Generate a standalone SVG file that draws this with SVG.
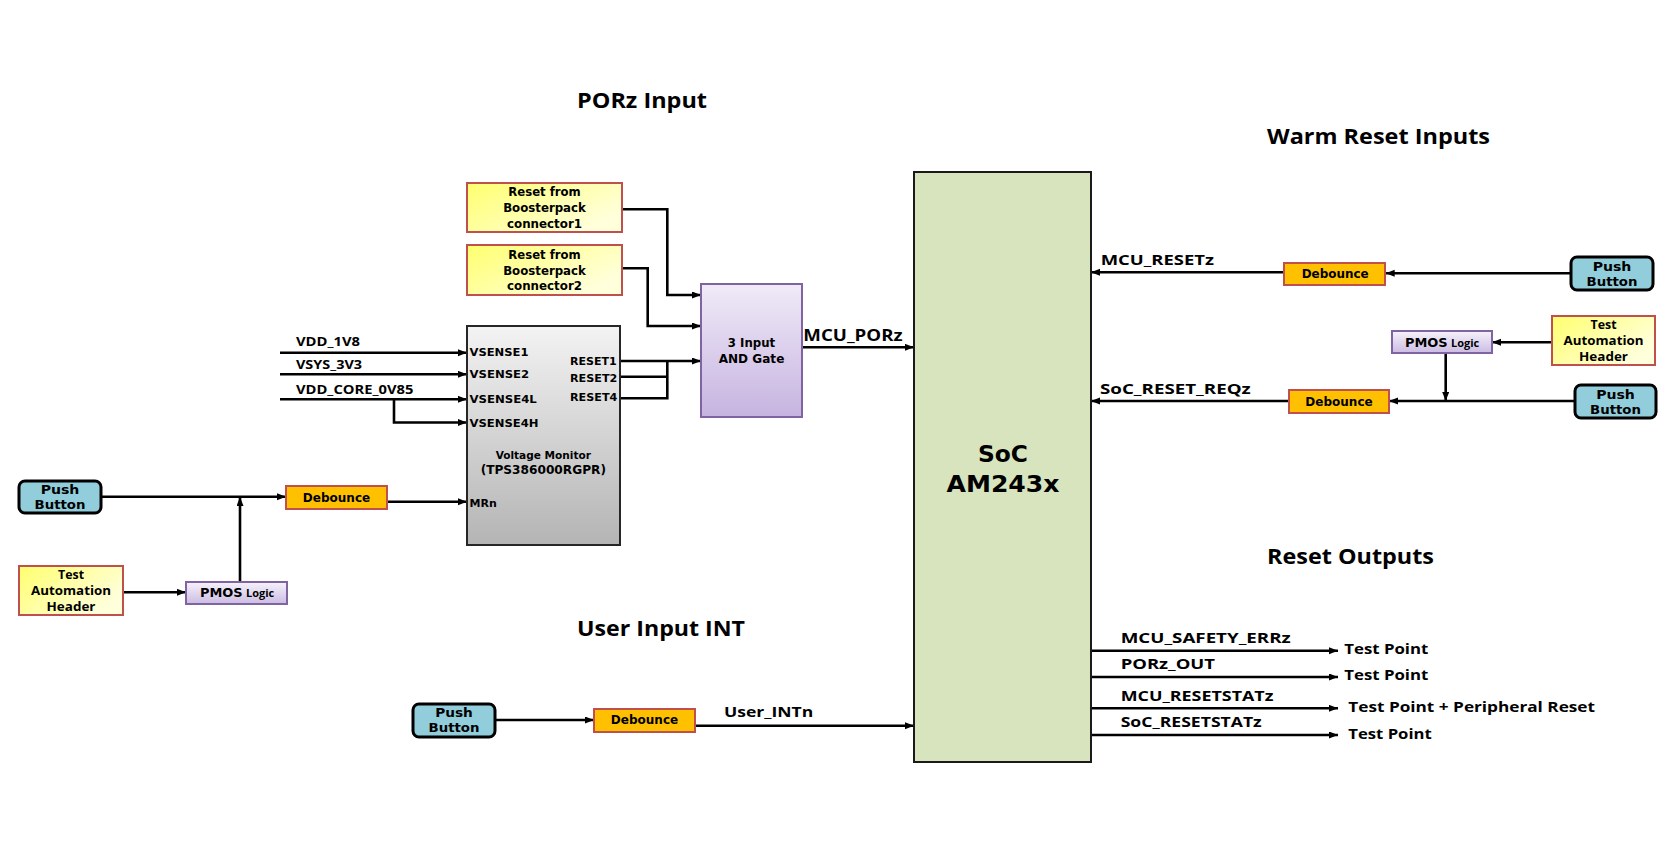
<svg xmlns="http://www.w3.org/2000/svg" width="1666" height="867" viewBox="0 0 1666 867">
<defs>
<linearGradient id="gYel" x1="0" y1="0" x2="1" y2="0.6"><stop offset="0" stop-color="#ffff6e"/><stop offset="1" stop-color="#ffffdc"/></linearGradient>
<linearGradient id="gLav" x1="0" y1="0" x2="0" y2="1"><stop offset="0" stop-color="#f0eaf8"/><stop offset="1" stop-color="#c6b4e0"/></linearGradient>
<linearGradient id="gPm" x1="0" y1="0" x2="0" y2="1"><stop offset="0" stop-color="#f6f2fb"/><stop offset="1" stop-color="#cbbce2"/></linearGradient>
<linearGradient id="gGray" x1="0" y1="0" x2="0" y2="1"><stop offset="0" stop-color="#f3f3f3"/><stop offset="1" stop-color="#b4b4b4"/></linearGradient>
<marker id="arr" markerUnits="userSpaceOnUse" markerWidth="10" markerHeight="8" refX="9" refY="3.5" orient="auto"><path d="M0,0 L9,3.5 L0,7 z" fill="#000"/></marker>
<style>
.yel{fill:url(#gYel);stroke:#c0504d;stroke-width:2}
.deb{fill:#ffc000;stroke:#c0504d;stroke-width:2}
.pb{fill:#92cddc;stroke:#000;stroke-width:3}
.pm{fill:url(#gPm);stroke:#8064a2;stroke-width:2}
.and{fill:url(#gLav);stroke:#8064a2;stroke-width:2}
.vm{fill:url(#gGray);stroke:#262626;stroke-width:2}
.soc{fill:#d7e4bd;stroke:#1a1a1a;stroke-width:2}
.w{fill:none;stroke:#000;stroke-width:2.6}
.a{marker-end:url(#arr)}
.v{font-family:"DejaVu Sans","Liberation Sans",sans-serif;font-weight:bold;fill:#000}
.c{font-family:"Open Sans",Lato,"Liberation Sans",sans-serif;font-weight:bold;fill:#000}
.m{text-anchor:middle}
.t{font-size:21px}
.s{font-size:15px}
</style>
</defs>

<g id="titles">
<text class="c t" x="577" y="107.5" textLength="130" lengthAdjust="spacingAndGlyphs">PORz Input</text>
<text class="c t" x="1267" y="144.3" textLength="223" lengthAdjust="spacingAndGlyphs">Warm Reset Inputs</text>
<text class="c t" x="1267" y="564.3" textLength="167" lengthAdjust="spacingAndGlyphs">Reset Outputs</text>
<text class="c t" x="577" y="636" textLength="168" lengthAdjust="spacingAndGlyphs">User Input INT</text>
</g>

<g id="connectors">
<path class="w a" d="M280,352.7 H467"/>
<path class="w a" d="M280,374.3 H467"/>
<path class="w a" d="M280,399.3 H467"/>
<path class="w a" d="M394,399.3 V422.5 H467"/>
<path class="w a" d="M622,209.3 H667.3 V295 H701"/>
<path class="w a" d="M622,268.3 H647.7 V326 H701"/>
<path class="w a" d="M620,361 H701"/>
<path class="w" d="M620,376.7 H667.3 M620,398.3 H667.3 V361"/>
<path class="w a" d="M802,347.3 H914"/>
<path class="w a" d="M101,496.7 H286"/>
<path class="w a" d="M240,582 V497"/>
<path class="w a" d="M121,592.3 H186"/>
<path class="w a" d="M387,501.7 H467"/>
<path class="w a" d="M1284,272.3 H1091"/>
<path class="w a" d="M1571,273.3 H1385.7"/>
<path class="w a" d="M1552,342.3 H1492"/>
<path class="w a" d="M1445.7,353 V401"/>
<path class="w a" d="M1575,401 H1389"/>
<path class="w a" d="M1289,401 H1091"/>
<path class="w a" d="M495,720 H594"/>
<path class="w a" d="M695,725.7 H914"/>
<path class="w a" d="M1091,650.7 H1338"/>
<path class="w a" d="M1091,677 H1338"/>
<path class="w a" d="M1091,708.3 H1338"/>
<path class="w a" d="M1091,735 H1338"/>
</g>

<g id="signal-labels">
<text class="c" font-size="12" x="296" y="346" textLength="64" lengthAdjust="spacingAndGlyphs">VDD_1V8</text>
<text class="c" font-size="12" x="296" y="369" textLength="66" lengthAdjust="spacingAndGlyphs">VSYS_3V3</text>
<text class="c" font-size="12" x="296" y="394" textLength="117.3" lengthAdjust="spacingAndGlyphs">VDD_CORE_0V85</text>
<text class="c" font-size="15.5" x="803.3" y="341" textLength="99.3" lengthAdjust="spacingAndGlyphs">MCU_PORz</text>
<text class="c" font-size="14.5" x="1100.7" y="265" textLength="113.3" lengthAdjust="spacingAndGlyphs">MCU_RESETz</text>
<text class="c" font-size="14.5" x="1100" y="394.3" textLength="150.7" lengthAdjust="spacingAndGlyphs">SoC_RESET_REQz</text>
<text class="c" font-size="14.5" x="724" y="716.7" textLength="89.3" lengthAdjust="spacingAndGlyphs">User_INTn</text>
<text class="c s" x="1120.7" y="642.7" textLength="170" lengthAdjust="spacingAndGlyphs">MCU_SAFETY_ERRz</text>
<text class="c s" x="1120.7" y="669" textLength="94.3" lengthAdjust="spacingAndGlyphs">PORz_OUT</text>
<text class="c s" x="1120.7" y="701" textLength="152.7" lengthAdjust="spacingAndGlyphs">MCU_RESETSTATz</text>
<text class="c s" x="1120.7" y="727.3" textLength="141" lengthAdjust="spacingAndGlyphs">SoC_RESETSTATz</text>
<text class="c s" x="1344.3" y="654" textLength="84" lengthAdjust="spacingAndGlyphs">Test Point</text>
<text class="c s" x="1344.3" y="680" textLength="84" lengthAdjust="spacingAndGlyphs">Test Point</text>
<text class="c s" x="1348.3" y="712.3" textLength="246.7" lengthAdjust="spacingAndGlyphs">Test Point + Peripheral Reset</text>
<text class="c s" x="1348.3" y="738.7" textLength="83.4" lengthAdjust="spacingAndGlyphs">Test Point</text>
</g>

<g id="booster1">
<rect class="yel" x="467" y="183" width="155" height="49"/>
<text class="v m" font-size="12.5" x="544.5" y="196" textLength="72.4" lengthAdjust="spacingAndGlyphs">Reset from</text>
<text class="v m" font-size="12.5" x="544.5" y="212" textLength="82.7" lengthAdjust="spacingAndGlyphs">Boosterpack</text>
<text class="v m" font-size="12.5" x="544.5" y="227.7" textLength="75" lengthAdjust="spacingAndGlyphs">connector1</text>
</g>

<g id="booster2">
<rect class="yel" x="467" y="245" width="155" height="50"/>
<text class="v m" font-size="12.5" x="544.5" y="259" textLength="72.4" lengthAdjust="spacingAndGlyphs">Reset from</text>
<text class="v m" font-size="12.5" x="544.5" y="275" textLength="82.7" lengthAdjust="spacingAndGlyphs">Boosterpack</text>
<text class="v m" font-size="12.5" x="544.5" y="290" textLength="75" lengthAdjust="spacingAndGlyphs">connector2</text>
</g>

<g id="and-gate">
<rect class="and" x="701" y="284" width="101" height="133"/>
<text class="v m" font-size="12" x="751.5" y="346.7" textLength="47.3" lengthAdjust="spacingAndGlyphs">3 Input</text>
<text class="v m" font-size="12" x="751.5" y="362.7" textLength="65.7" lengthAdjust="spacingAndGlyphs">AND Gate</text>
</g>

<g id="voltage-monitor">
<rect class="vm" x="467" y="326" width="153" height="219"/>
<text class="v" font-size="10.5" x="469.5" y="355.7" textLength="59" lengthAdjust="spacingAndGlyphs">VSENSE1</text>
<text class="v" font-size="10.5" x="469.5" y="378.3" textLength="59.7" lengthAdjust="spacingAndGlyphs">VSENSE2</text>
<text class="v" font-size="10.5" x="469.5" y="403.3" textLength="67.3" lengthAdjust="spacingAndGlyphs">VSENSE4L</text>
<text class="v" font-size="10.5" x="469.5" y="426.7" textLength="69" lengthAdjust="spacingAndGlyphs">VSENSE4H</text>
<text class="v" font-size="10.5" x="570" y="365" textLength="46.7" lengthAdjust="spacingAndGlyphs">RESET1</text>
<text class="v" font-size="10.5" x="570" y="381.7" textLength="47.3" lengthAdjust="spacingAndGlyphs">RESET2</text>
<text class="v" font-size="10.5" x="570" y="401" textLength="47.3" lengthAdjust="spacingAndGlyphs">RESET4</text>
<text class="v m" font-size="10.5" x="543.3" y="458.7" textLength="95.3" lengthAdjust="spacingAndGlyphs">Voltage Monitor</text>
<text class="v m" font-size="12" x="543.3" y="474" textLength="125.3" lengthAdjust="spacingAndGlyphs">(TPS386000RGPR)</text>
<text class="v" font-size="10.5" x="469.5" y="506.7" textLength="27.3" lengthAdjust="spacingAndGlyphs">MRn</text>
</g>

<g id="soc">
<rect class="soc" x="914" y="172" width="177" height="590"/>
<text class="v m" font-size="23.5" x="1003" y="462" textLength="50" lengthAdjust="spacingAndGlyphs">SoC</text>
<text class="v m" font-size="23.5" x="1003" y="492" textLength="113" lengthAdjust="spacingAndGlyphs">AM243x</text>
</g>

<g id="pb-porz">
<rect class="pb" x="19" y="481" width="82" height="32" rx="6"/>
<text class="v m" font-size="12.5" x="60" y="494" textLength="38.7" lengthAdjust="spacingAndGlyphs">Push</text>
<text class="v m" font-size="12.5" x="60" y="509.3" textLength="51" lengthAdjust="spacingAndGlyphs">Button</text>
</g>

<g id="deb-porz">
<rect class="deb" x="286" y="486" width="101" height="23"/>
<text class="v m" font-size="12" x="336.5" y="501.7" textLength="67.3" lengthAdjust="spacingAndGlyphs">Debounce</text>
</g>

<g id="tah-porz">
<rect class="yel" x="19" y="566" width="104" height="49"/>
<text class="c m" font-size="12.5" x="71" y="579" textLength="26" lengthAdjust="spacingAndGlyphs">Test</text>
<text class="c m" font-size="12.5" x="71" y="595" textLength="80" lengthAdjust="spacingAndGlyphs">Automation</text>
<text class="c m" font-size="12.5" x="71" y="610.7" textLength="49" lengthAdjust="spacingAndGlyphs">Header</text>
</g>

<g id="pmos-porz">
<rect class="pm" x="186" y="582" width="101" height="22"/>
<text class="v" font-size="11.5" x="200" y="597.3" textLength="42.7" lengthAdjust="spacingAndGlyphs">PMOS</text>
<text class="c" font-size="11" x="246" y="597.3" textLength="28.3" lengthAdjust="spacingAndGlyphs">Logic</text>
</g>

<g id="deb-mcu-reset">
<rect class="deb" x="1284" y="263" width="101" height="22"/>
<text class="v m" font-size="12" x="1335.2" y="278.3" textLength="67" lengthAdjust="spacingAndGlyphs">Debounce</text>
</g>

<g id="pb-mcu-reset">
<rect class="pb" x="1571" y="257" width="82" height="33" rx="6"/>
<text class="v m" font-size="12.5" x="1612" y="270.5" textLength="38.7" lengthAdjust="spacingAndGlyphs">Push</text>
<text class="v m" font-size="12.5" x="1612" y="285.5" textLength="51" lengthAdjust="spacingAndGlyphs">Button</text>
</g>

<g id="tah-warm">
<rect class="yel" x="1552" y="316" width="103" height="49"/>
<text class="c m" font-size="12.5" x="1603.5" y="329" textLength="26" lengthAdjust="spacingAndGlyphs">Test</text>
<text class="c m" font-size="12.5" x="1603.5" y="345" textLength="80" lengthAdjust="spacingAndGlyphs">Automation</text>
<text class="c m" font-size="12.5" x="1603.5" y="360.7" textLength="49" lengthAdjust="spacingAndGlyphs">Header</text>
</g>

<g id="pmos-warm">
<rect class="pm" x="1392" y="331" width="100" height="22"/>
<text class="v" font-size="11.5" x="1405" y="347.3" textLength="42.7" lengthAdjust="spacingAndGlyphs">PMOS</text>
<text class="c" font-size="11" x="1451" y="347.3" textLength="28.3" lengthAdjust="spacingAndGlyphs">Logic</text>
</g>

<g id="deb-soc-reset">
<rect class="deb" x="1289" y="390" width="100" height="23"/>
<text class="v m" font-size="12" x="1339" y="405.7" textLength="67.3" lengthAdjust="spacingAndGlyphs">Debounce</text>
</g>

<g id="pb-soc-reset">
<rect class="pb" x="1575" y="385" width="81" height="33" rx="6"/>
<text class="v m" font-size="12.5" x="1615.5" y="398.5" textLength="38.7" lengthAdjust="spacingAndGlyphs">Push</text>
<text class="v m" font-size="12.5" x="1615.5" y="413.5" textLength="51" lengthAdjust="spacingAndGlyphs">Button</text>
</g>

<g id="pb-user">
<rect class="pb" x="413" y="704" width="82" height="33" rx="6"/>
<text class="v m" font-size="12.5" x="454" y="716.7" textLength="37.7" lengthAdjust="spacingAndGlyphs">Push</text>
<text class="v m" font-size="12.5" x="454" y="732.3" textLength="51" lengthAdjust="spacingAndGlyphs">Button</text>
</g>

<g id="deb-user">
<rect class="deb" x="594" y="709" width="101" height="23"/>
<text class="v m" font-size="12" x="644.5" y="724" textLength="67.3" lengthAdjust="spacingAndGlyphs">Debounce</text>
</g>
</svg>
